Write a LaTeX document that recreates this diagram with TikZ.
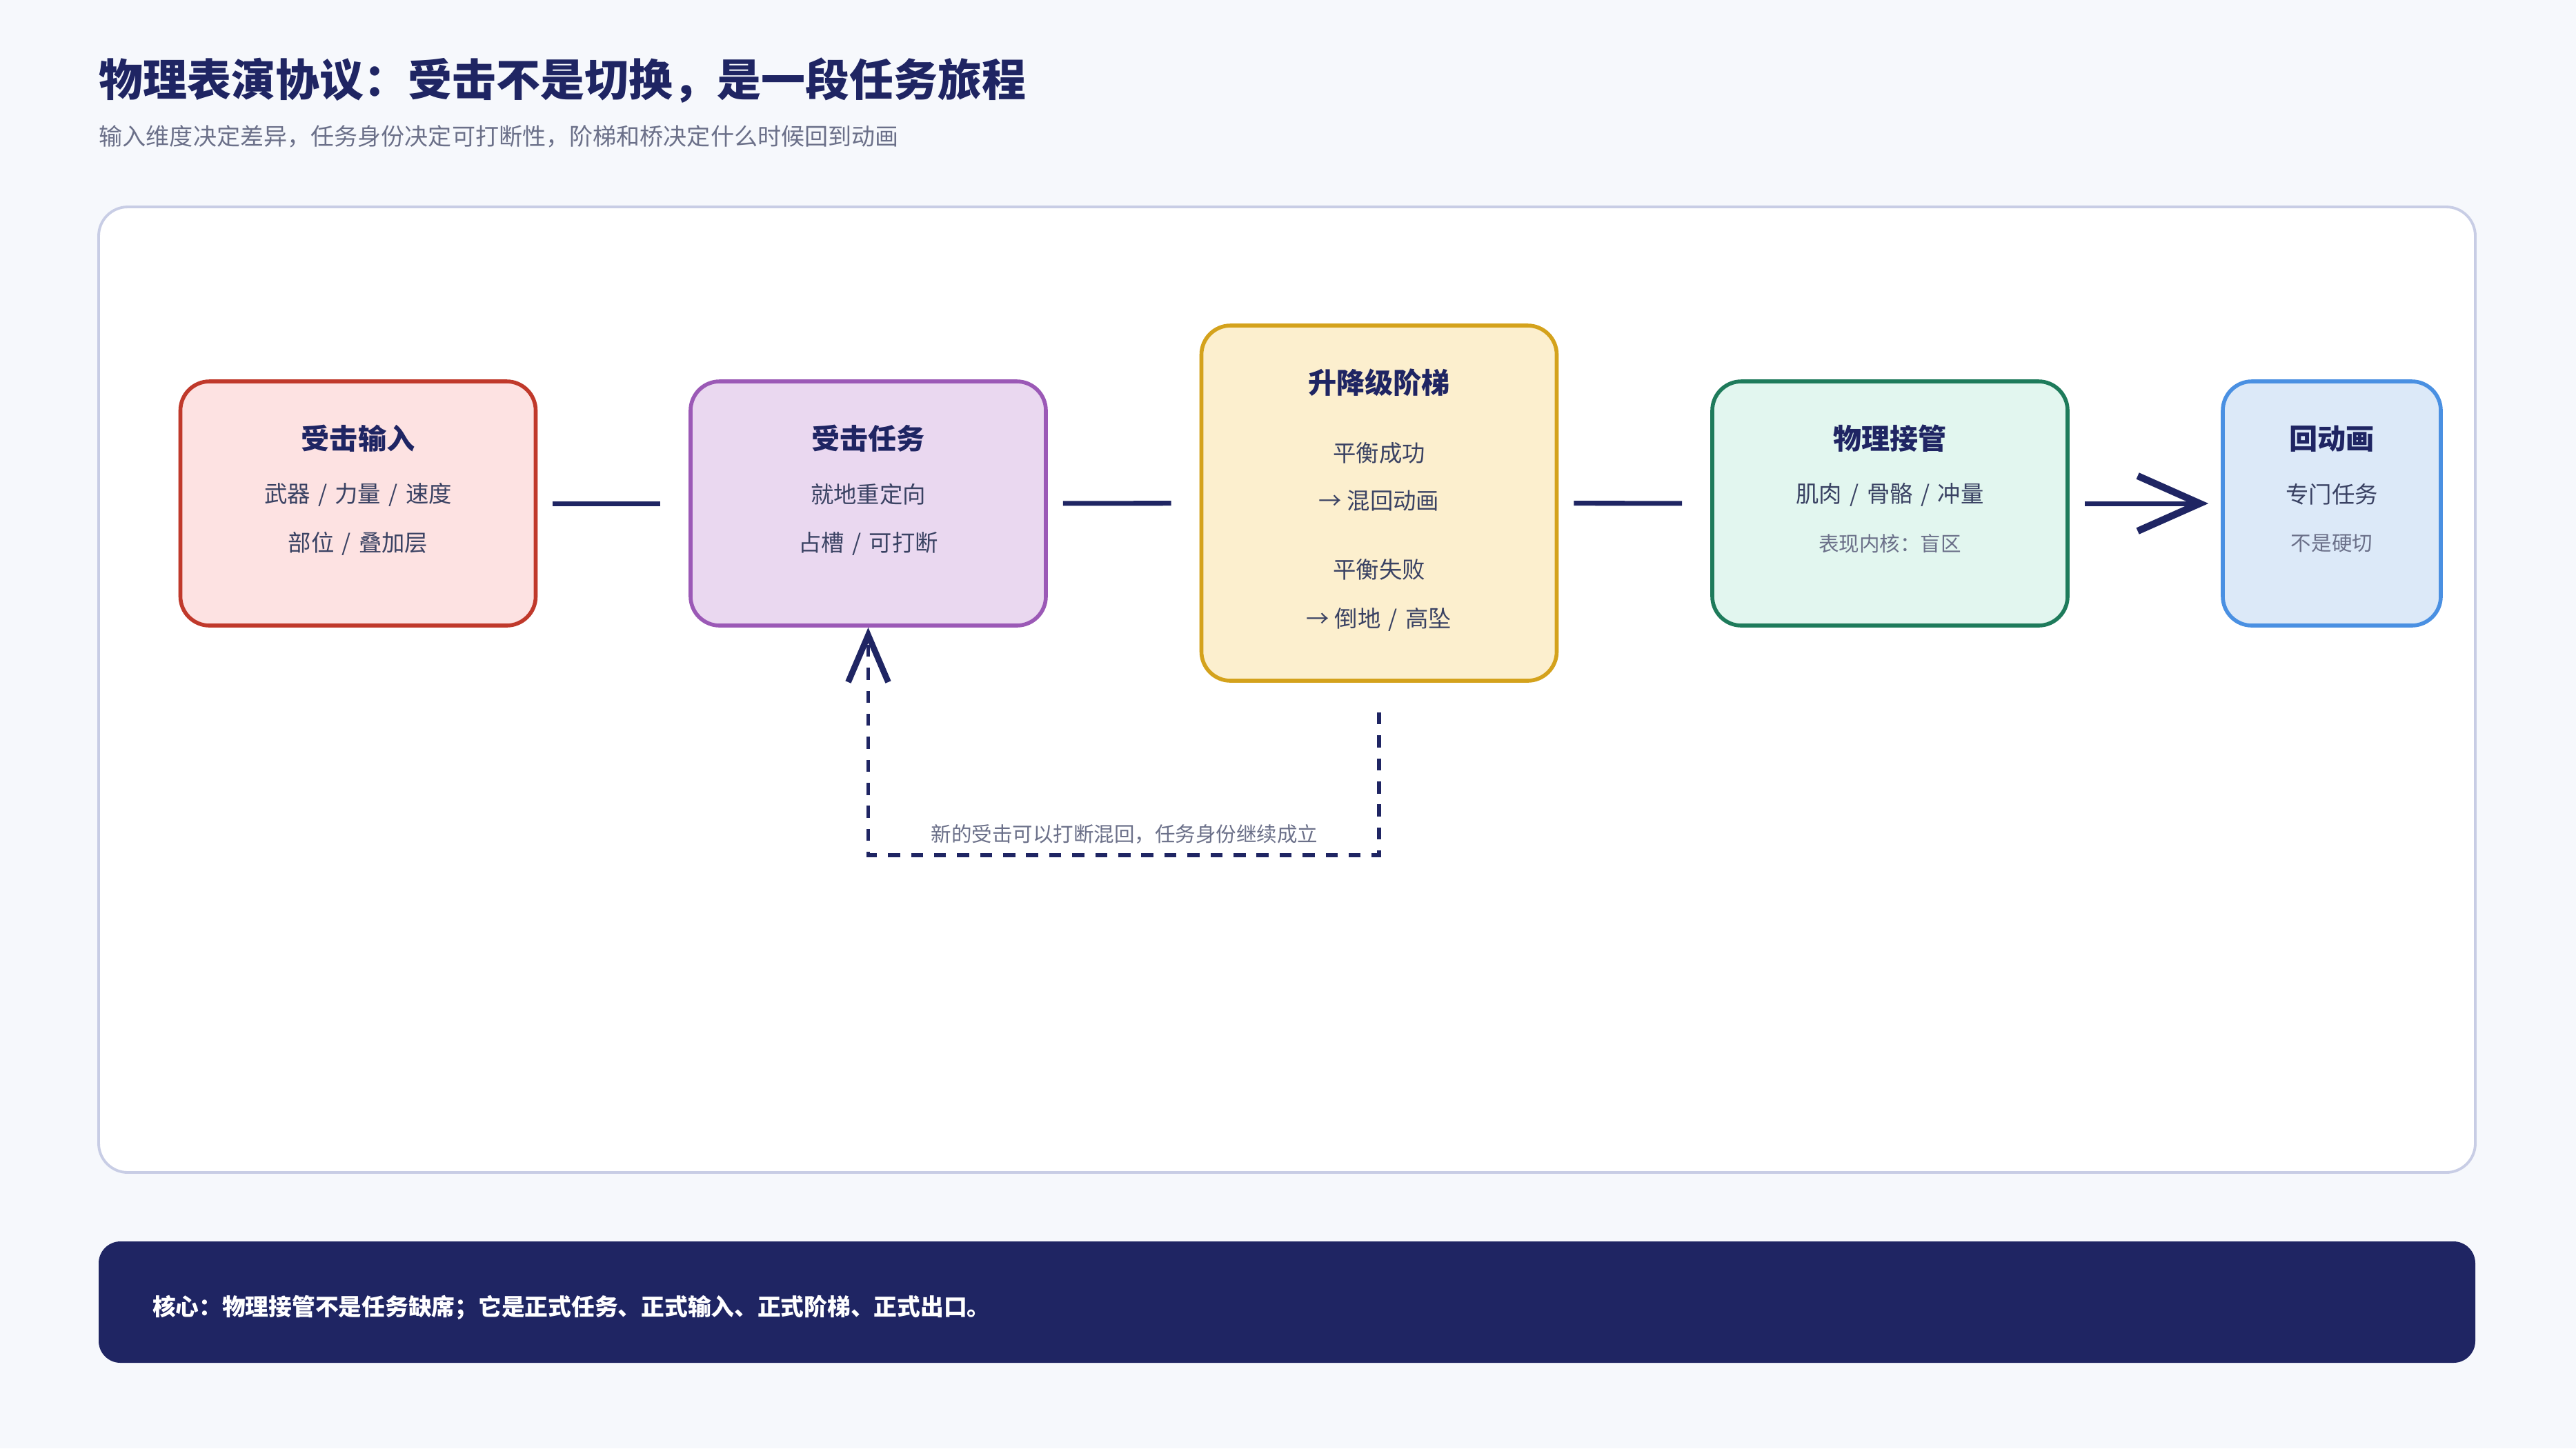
\documentclass[tikz,border=0pt]{standalone}
\usepackage{fontspec}
\setmainfont{Noto Sans CJK SC}
\usepackage{tikz}
\usetikzlibrary{arrows.meta}
\usetikzlibrary{calc, positioning}

\definecolor{bgc}{HTML}{F6F8FC}
\definecolor{panelline}{HTML}{C8CDE5}
\definecolor{navy}{HTML}{1F2563}
\definecolor{slate}{HTML}{3A4263}
\definecolor{mute}{HTML}{6B7089}
\definecolor{redL}{HTML}{FDE2E2}
\definecolor{redD}{HTML}{C0392B}
\definecolor{purL}{HTML}{EAD8F0}
\definecolor{purD}{HTML}{9B59B6}
\definecolor{ambL}{HTML}{FCEFCE}
\definecolor{ambD}{HTML}{D4A21C}
\definecolor{grnL}{HTML}{E2F6EF}
\definecolor{grnD}{HTML}{1E7B5B}
\definecolor{bluL}{HTML}{DCE9F8}
\definecolor{bluD}{HTML}{4A90E2}
\newcommand{\slsep}{\hspace{0.34em}/\hspace{0.34em}}

\begin{document}
\begin{tikzpicture}[
    stage/.style={draw, rounded corners=12pt, line width=1.6pt, minimum width=5.15cm, minimum height=3.54cm},
    head/.style={inner sep=0pt, text=navy, font=\fontsize{11.7}{14}\selectfont\bfseries},
    body/.style={inner sep=0pt, text=slate, font=\fontsize{9.5}{12}\selectfont},
    note/.style={inner sep=0pt, text=mute, font=\fontsize{8.4}{10}\selectfont},
    link/.style={navy, line width=2pt, shorten <=0.22cm, shorten >=0.41cm},
  ]
  \fill [bgc] (0,0) rectangle (37.34,-21); % page
  \draw [panelline, fill=white, line width=1.1pt, rounded corners=12pt] (1.43,-3.00) rectangle (35.88,-17.00); % panel

  \node [inner sep=0pt, anchor=west, text=navy, font=\fontsize{18.2}{22}\selectfont\bfseries] (title) at (1.43,-1.17) {物理表演协议：受击不是切换，是一段任务旅程};
  \node [inner sep=0pt, anchor=west, text=mute, font=\fontsize{9.7}{12}\selectfont] (subtitle) at (1.43,-1.98) {输入维度决定差异，任务身份决定可打断性，阶梯和桥决定什么时候回到动画};

  % the five stages
  \node [stage, fill=redL, draw=redD] (input) at (5.19,-7.30) {};
  \node [stage, fill=purL, draw=purD] (task) at (12.585,-7.30) {};
  \node [stage, fill=ambL, draw=ambD, minimum height=5.15cm] (ladder) at (19.99,-7.295) {};
  \node [stage, fill=grnL, draw=grnD] (phys) at (27.395,-7.30) {};
  \node [stage, fill=bluL, draw=bluD, minimum width=3.16cm] (anim) at (33.80,-7.30) {};

  \node [head] (inputT) at (5.19,-6.36) {受击输入};
  \node [body] (inputA) at (5.19,-7.17) {武器\slsep 力量\slsep 速度};
  \node [body] (inputB) at (5.19,-7.88) {部位\slsep 叠加层};

  \node [head] (taskT) at (12.585,-6.36) {受击任务};
  \node [body] (taskA) at (12.585,-7.17) {就地重定向};
  \node [body] (taskB) at (12.585,-7.88) {占槽\slsep 可打断};

  \node [head] (ladderT) at (19.99,-5.55) {升降级阶梯};
  \node [body] (ladderA) at (19.99,-6.57) {平衡成功};
  \node [body] (ladderB) at (19.99,-7.26) {→ 混回动画};
  \node [body] (ladderC) at (19.99,-8.26) {平衡失败};
  \node [body] (ladderD) at (19.99,-8.98) {→ 倒地\slsep 高坠};

  \node [head] (physT) at (27.395,-6.36) {物理接管};
  \node [body] (physA) at (27.395,-7.17) {肌肉\slsep 骨骼\slsep 冲量};
  \node [note] (physB) at (27.395,-7.88) {表现内核：盲区};

  \node [head] (animT) at (33.80,-6.36) {回动画};
  \node [body] (animA) at (33.80,-7.17) {专门任务};
  \node [note] (animB) at (33.80,-7.88) {不是硬切};

  % connectors
  \draw [link] (input) -- (task);
  \draw [link] (task) -- (ladder);
  \draw [link] (ladder) -- (phys);
  \draw [link, shorten >=0.18cm, -{Straight Barb[sharp, length=0.9cm, width=0.8cm, line width=2.9pt]}] (phys) -- (anim);

  % way back
  \coordinate (back) at (0,-12.40);
  \draw [navy, line width=1.7pt, dash pattern=on 5pt off 4.5pt, shorten <=0.43cm, -{Straight Barb[sharp, length=0.68cm, width=0.58cm, line width=2.5pt]}]
    (ladder.south) -- (ladder.south |- back) -- (task.south |- back) -- (task.south);
  \node [note] (backT) at (16.30,-12.10) {新的受击可以打断混回，任务身份继续成立};

  % footer
  \node [fill=navy, rounded corners=9pt, minimum width=34.45cm, minimum height=1.76cm, inner sep=0pt] (bar) at (18.655,-18.88) {};
  \node [inner sep=0pt, anchor=west, text=white, font=\fontsize{9.6}{12}\selectfont\bfseries] (core) at ([xshift=0.78cm, yshift=-0.08cm]bar.west) {核心：物理接管不是任务缺席；它是正式任务、正式输入、正式阶梯、正式出口。};
\end{tikzpicture}
\end{document}
